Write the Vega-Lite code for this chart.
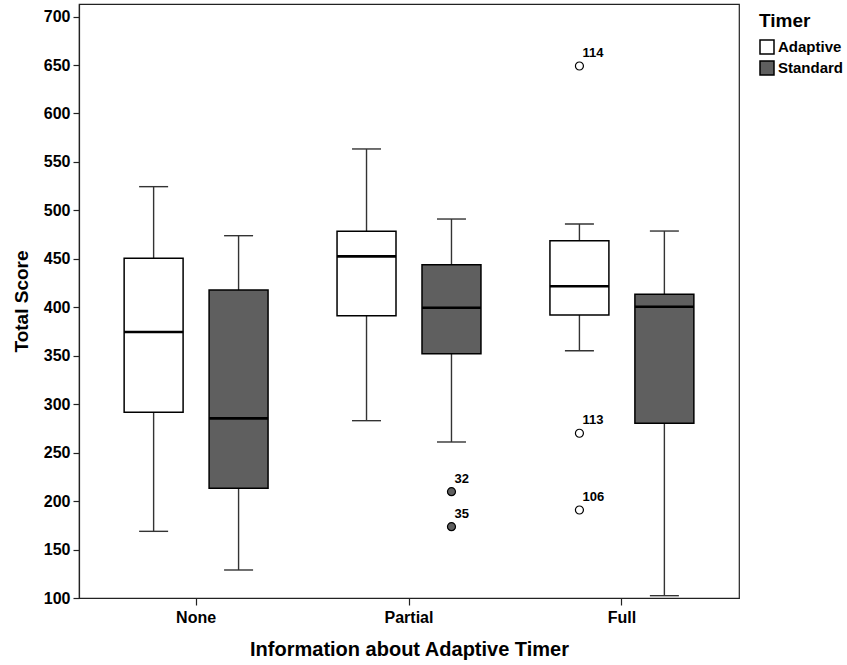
{
  "$schema": "https://vega.github.io/schema/vega-lite/v6.json",
  "width": 660,
  "height": 594,
  "autosize": "none",
  "padding": {"left": 79, "top": 4, "right": 108, "bottom": 67},
  "background": "white",
  "config": {
    "view": {"stroke": "#222", "strokeWidth": 1.2},
    "font": "Liberation Sans",
    "axis": {"grid": false, "domainColor": "#222", "tickColor": "#222", "labelColor": "black", "titleColor": "black", "labelFont": "Liberation Sans", "titleFont": "Liberation Sans", "labelFontWeight": "bold", "titleFontWeight": "bold", "labelFontSize": 16, "domainWidth": 1.2, "tickWidth": 1.2}
  },
  "datasets": {
    "boxes": [
      {"Info": "None", "Timer": "Adaptive", "lower": 168.8, "q1": 291.6, "median": 374.5, "q3": 450.6, "upper": 524.5},
      {"Info": "None", "Timer": "Standard", "lower": 128.9, "q1": 213.2, "median": 285.4, "q3": 417.9, "upper": 473.9},
      {"Info": "Partial", "Timer": "Adaptive", "lower": 283.0, "q1": 391.4, "median": 452.6, "q3": 478.4, "upper": 563.4},
      {"Info": "Partial", "Timer": "Standard", "lower": 261.0, "q1": 352.1, "median": 399.6, "q3": 444.0, "upper": 491.1},
      {"Info": "Full", "Timer": "Adaptive", "lower": 355.2, "q1": 392.0, "median": 421.7, "q3": 468.7, "upper": 486.0},
      {"Info": "Full", "Timer": "Standard", "lower": 102.4, "q1": 280.3, "median": 400.6, "q3": 413.4, "upper": 478.7}
    ],
    "outliers": [
      {"Info": "Partial", "Timer": "Standard", "score": 209.7, "id": "32"},
      {"Info": "Partial", "Timer": "Standard", "score": 173.6, "id": "35"},
      {"Info": "Full", "Timer": "Adaptive", "score": 649.0, "id": "114"},
      {"Info": "Full", "Timer": "Adaptive", "score": 270.0, "id": "113"},
      {"Info": "Full", "Timer": "Adaptive", "score": 190.8, "id": "106"}
    ]
  },
  "encoding": {
    "x": {
      "field": "Info", "type": "nominal", "sort": ["None", "Partial", "Full"],
      "scale": {"paddingInner": 0, "paddingOuter": 0.05},
      "axis": {"title": "Information about Adaptive Timer", "labelAngle": 0, "tickSize": 7, "labelPadding": 4, "titleFontSize": 20, "titlePadding": 14}
    },
    "xOffset": {
      "field": "Timer", "type": "nominal", "sort": ["Adaptive", "Standard"],
      "scale": {"domain": ["Adaptive", "Standard"], "paddingInner": 0.306, "paddingOuter": 0.406}
    }
  },
  "layer": [
    {
      "data": {"name": "boxes"},
      "mark": {"type": "rule", "color": "#333", "strokeWidth": 1.4},
      "encoding": {
        "y": {"field": "lower", "type": "quantitative", "scale": {"domain": [100, 713], "nice": false, "zero": false},
          "axis": {"title": "Total Score", "values": [100,150,200,250,300,350,400,450,500,550,600,650,700], "tickSize": 6, "labelPadding": 3, "titleFontSize": 19, "titlePadding": 12}},
        "y2": {"field": "upper"}
      }
    },
    {
      "data": {"name": "boxes"},
      "mark": {"type": "tick", "color": "#333", "size": 29, "thickness": 1.4, "opacity": 1},
      "encoding": {"y": {"field": "lower", "type": "quantitative"}}
    },
    {
      "data": {"name": "boxes"},
      "mark": {"type": "tick", "color": "#333", "size": 29, "thickness": 1.4, "opacity": 1},
      "encoding": {"y": {"field": "upper", "type": "quantitative"}}
    },
    {
      "data": {"name": "boxes"},
      "mark": {"type": "bar", "stroke": "black", "strokeWidth": 1.5, "opacity": 1},
      "encoding": {
        "y": {"field": "q1", "type": "quantitative"},
        "y2": {"field": "q3"},
        "fill": {"field": "Timer", "type": "nominal", "scale": {"domain": ["Adaptive", "Standard"], "range": ["#ffffff", "#5f5f5f"]},
          "legend": {"title": "Timer", "orient": "none", "legendX": 680, "legendY": 8, "symbolType": "square", "symbolSize": 196, "symbolStrokeColor": "black", "symbolStrokeWidth": 1.5, "symbolOpacity": 1, "titleFontSize": 19, "titleFont": "Liberation Sans", "titleFontWeight": "bold", "titleColor": "black", "labelFontSize": 15, "labelFont": "Liberation Sans", "labelFontWeight": "bold", "labelColor": "black", "labelOffset": 3, "rowPadding": 1, "titlePadding": 8}}
      }
    },
    {
      "data": {"name": "boxes"},
      "mark": {"type": "tick", "color": "black", "size": 59, "thickness": 2.6, "opacity": 1},
      "encoding": {"y": {"field": "median", "type": "quantitative"}}
    },
    {
      "data": {"name": "outliers"},
      "mark": {"type": "point", "shape": "circle", "filled": true, "size": 64, "stroke": "black", "strokeWidth": 1.2, "opacity": 1},
      "encoding": {
        "y": {"field": "score", "type": "quantitative"},
        "fill": {"field": "Timer", "type": "nominal"}
      }
    },
    {
      "data": {"name": "outliers"},
      "mark": {"type": "text", "align": "left", "baseline": "alphabetic", "dx": 3, "dy": -9, "fontSize": 13, "fontWeight": "bold", "font": "Liberation Sans", "color": "black"},
      "encoding": {
        "y": {"field": "score", "type": "quantitative"},
        "text": {"field": "id"}
      }
    }
  ]
}
